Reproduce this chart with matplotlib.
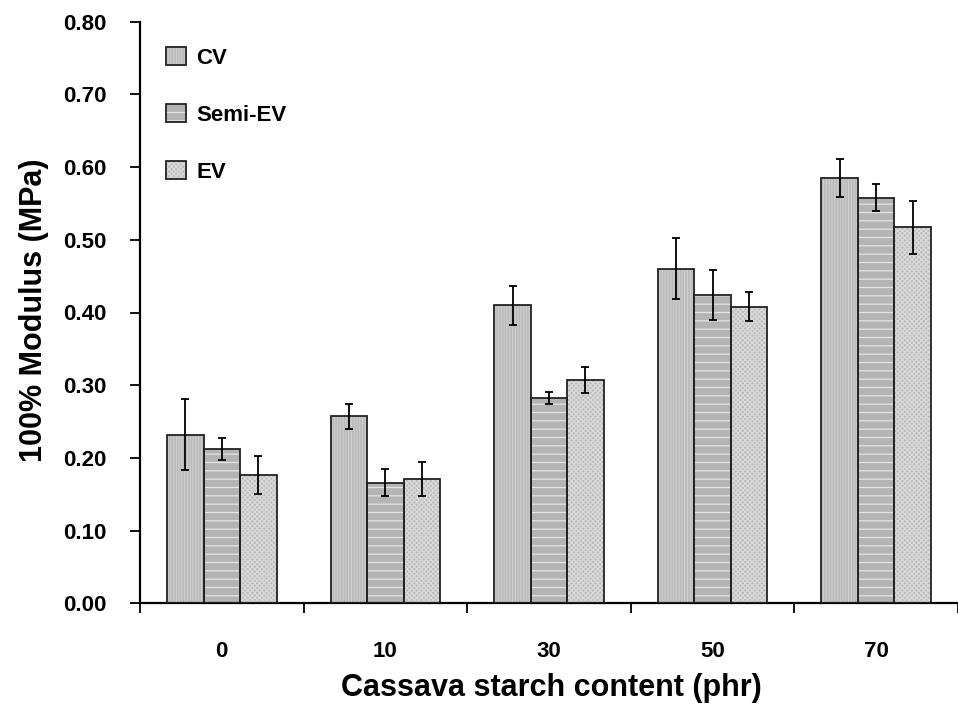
import matplotlib.pyplot as plt
from matplotlib.patches import Patch
import numpy as np

plt.rcParams['font.family'] = ['Liberation Sans', 'DejaVu Sans']
plt.rcParams['font.weight'] = 'bold'
plt.rcParams['hatch.linewidth'] = 0.9

groups = ['0', '10', '30', '50', '70']
series = ['CV', 'Semi-EV', 'EV']
cv = [0.232, 0.257, 0.410, 0.460, 0.585]
cv_err = [0.049, 0.017, 0.027, 0.042, 0.026]
semi = [0.212, 0.166, 0.282, 0.424, 0.558]
semi_err = [0.015, 0.019, 0.008, 0.034, 0.019]
ev = [0.176, 0.171, 0.307, 0.408, 0.517]
ev_err = [0.026, 0.024, 0.018, 0.020, 0.036]

values = [cv, semi, ev]
errors = [cv_err, semi_err, ev_err]
faces = ['#b9b9b9', '#b4b4b4', '#bcbcbc']
hatch_cols = ['#cdcdcd', '#e4e4e4', '#d9d9d9']
hatches = ['||||||', '--', 'xxxxxxx']

fig = plt.figure(figsize=(9.58, 7.09), dpi=100)
ax = fig.add_axes([140 / 958, 1 - 603.3 / 709, 1 - 140 / 958, (603.3 - 21.7) / 709])

x = np.arange(len(groups))
w = 0.223
handles = []
for i, (vals, errs) in enumerate(zip(values, errors)):
    pos = x + (i - 1) * w
    ax.bar(pos, vals, w, color=faces[i], edgecolor=hatch_cols[i],
           hatch=hatches[i], linewidth=0, zorder=2)
    ax.bar(pos, vals, w, fill=False, edgecolor='#222222', linewidth=1.3, zorder=3)
    ax.errorbar(pos, vals, yerr=errs, fmt='none', ecolor='black',
                elinewidth=1.3, capsize=3, capthick=1.3, zorder=4)
    handles.append((Patch(facecolor=faces[i], edgecolor=hatch_cols[i],
                          hatch=hatches[i], linewidth=0),
                    Patch(fill=False, edgecolor='#222222', linewidth=1.3)))

ax.set_xlim(-0.5, 4.47)
ax.set_ylim(0, 0.8)
ax.set_yticks(np.arange(0, 0.81, 0.1))
ax.set_yticklabels([f'{v:.2f}' for v in np.arange(0, 0.81, 0.1)])
ax.set_xticks(x)
ax.set_xticklabels(groups)
ax.set_xticks(np.arange(-0.5, 4.6, 1.0), minor=True)

for s in ['top', 'right']:
    ax.spines[s].set_visible(False)
for s in ['left', 'bottom']:
    ax.spines[s].set_linewidth(1.6)

ax.tick_params(axis='y', direction='out', length=7, width=1.3, pad=17, labelsize=16)
ax.tick_params(axis='x', which='major', length=0, pad=27, labelsize=16)
ax.tick_params(axis='x', which='minor', direction='out', length=7, width=1.3)

fig.text(551 / 958, 1 - 688 / 709, 'Cassava starch content (phr)',
         ha='center', va='center', fontsize=22, fontweight='bold')
fig.text(34 / 958, 1 - 310 / 709, '100% Modulus (MPa)', rotation=90,
         ha='center', va='center', fontsize=22, fontweight='bold')

ax.legend(handles, series, loc='upper left', bbox_to_anchor=(166 / 958, 1 - 47 / 709),
          bbox_transform=fig.transFigure, frameon=False, borderpad=0,
          borderaxespad=0, handlelength=0.9, handleheight=0.9,
          handletextpad=0.45, labelspacing=1.58,
          prop={'size': 16, 'weight': 'bold'})

fig.savefig('out.png', dpi=100)
